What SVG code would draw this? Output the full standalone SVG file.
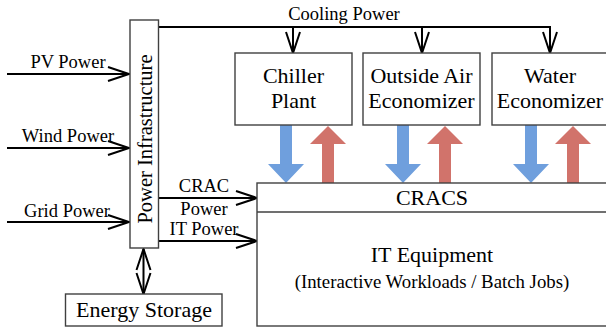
<svg xmlns="http://www.w3.org/2000/svg" width="606" height="329" viewBox="0 0 606 329" font-family="'Liberation Serif', 'DejaVu Serif', serif">
<style>
text{font-family:"Liberation Serif","DejaVu Serif",serif;fill:#000}
.box{fill:#fff;stroke:#404040;stroke-width:1.4}
.n{font-size:22px}
.l{font-size:18.5px}
.ln{fill:none;stroke:#000;stroke-width:2}
.blue{fill:#6f9fdd}
.red{fill:#d1736b}
</style>
<defs>
<marker id="v" markerUnits="userSpaceOnUse" markerWidth="26" markerHeight="20" refX="22" refY="8" orient="auto-start-reverse" overflow="visible">
<path d="M1,1 L22,8 L1,15" fill="none" stroke="#000" stroke-width="2"/>
</marker>
</defs>
<rect width="606" height="329" fill="#fff"/>
<g id="connectors">
<path class="ln" d="M7,74 H129" marker-end="url(#v)"/>
<path class="ln" d="M7,148 H129" marker-end="url(#v)"/>
<path class="ln" d="M7,222 H129" marker-end="url(#v)"/>
<path class="ln" d="M159,27 H551"/>
<path class="ln" d="M293,27 V53" marker-end="url(#v)"/>
<path class="ln" d="M422,27 V53" marker-end="url(#v)"/>
<path class="ln" d="M550,27 V53" marker-end="url(#v)"/>
<path class="ln" d="M159,198 H257" marker-end="url(#v)"/>
<path class="ln" d="M159,241 H257" marker-end="url(#v)"/>
<path class="ln" d="M143.5,249 V294" marker-start="url(#v)" marker-end="url(#v)"/>
<polygon class="blue" points="280,125 292,125 292,164 304,164 286,183 268,164 280,164"/>
<polygon class="red" points="322,183 334,183 334,144 346,144 328,126 310,144 322,144"/>
<polygon class="blue" points="397,125 409,125 409,164 421,164 403,183 385,164 397,164"/>
<polygon class="red" points="439,183 451,183 451,144 463,144 445,126 427,144 439,144"/>
<polygon class="blue" points="525,125 537,125 537,164 549,164 531,183 513,164 525,164"/>
<polygon class="red" points="567,183 579,183 579,144 591,144 573,126 555,144 567,144"/>
<text class="l" x="344" y="20" text-anchor="middle">Cooling Power</text>
<text class="l" x="68" y="68" text-anchor="middle">PV Power</text>
<text class="l" x="68" y="142" text-anchor="middle">Wind Power</text>
<text class="l" x="67" y="217" text-anchor="middle">Grid Power</text>
<text class="l" x="204" y="192" text-anchor="middle">CRAC</text>
<text class="l" x="204" y="215" text-anchor="middle">Power</text>
<text class="l" x="204" y="235" text-anchor="middle">IT Power</text>
</g>
<g id="power-infrastructure">
<rect class="box" x="130" y="20" width="28.5" height="228"/>
<text font-size="20.5px" transform="translate(151.5,139) rotate(-90)" text-anchor="middle">Power Infrastructure</text>
</g>
<g id="chiller-plant">
<rect class="box" x="235" y="53" width="117" height="72"/>
<text class="n" x="293.5" y="83" text-anchor="middle">Chiller</text>
<text class="n" x="293.5" y="108" text-anchor="middle">Plant</text>
</g>
<g id="outside-air-economizer">
<rect class="box" x="363" y="53" width="117" height="72"/>
<text class="n" x="421.5" y="83" text-anchor="middle">Outside Air</text>
<text class="n" x="421.5" y="108" text-anchor="middle">Economizer</text>
</g>
<g id="water-economizer">
<rect class="box" x="492" y="53" width="120" height="72"/>
<text class="n" x="550" y="83" text-anchor="middle">Water</text>
<text class="n" x="550" y="108" text-anchor="middle">Economizer</text>
</g>
<g id="cracs-it">
<rect class="box" x="257" y="183" width="355" height="143"/>
<line x1="257" y1="212" x2="612" y2="212" stroke="#404040" stroke-width="1.4"/>
<text class="n" x="432" y="205" text-anchor="middle">CRACS</text>
<text class="n" x="432" y="262" text-anchor="middle">IT Equipment</text>
<text font-size="18.8px" x="432" y="288" text-anchor="middle">(Interactive Workloads / Batch Jobs)</text>
</g>
<g id="energy-storage">
<rect class="box" x="65.5" y="294" width="156.5" height="32"/>
<text class="n" x="144" y="317" text-anchor="middle">Energy Storage</text>
</g>
</svg>
